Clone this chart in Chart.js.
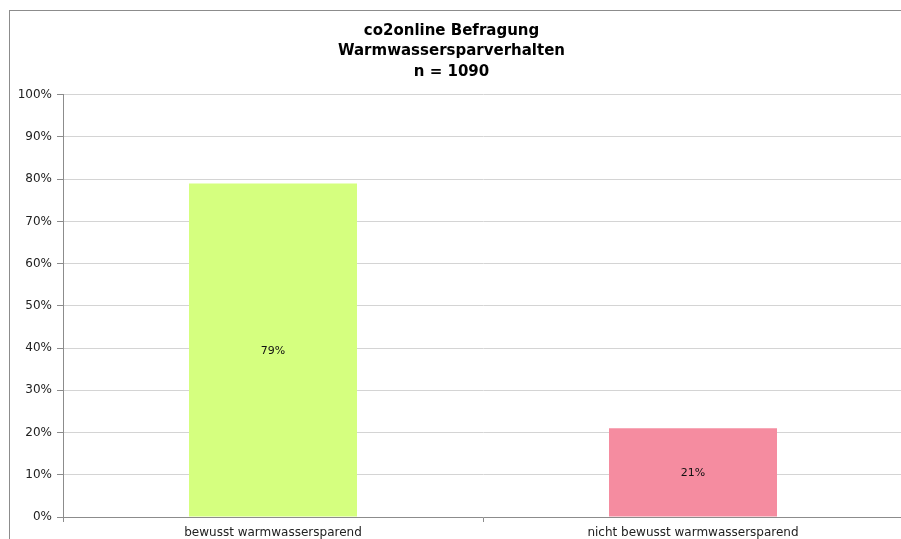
<!DOCTYPE html>
<html>
<head>
<meta charset="utf-8">
<script src="https://cdn.jsdelivr.net/npm/chart.js@4.4.0/dist/chart.umd.min.js"></script>
<style>
  html, body { margin: 0; padding: 0; background: #fff; overflow: hidden; }
  #frame { position: absolute; left: 9px; top: 10px; width: 1000px; height: 1000px; border-left: 1px solid #8c8c8c; border-top: 1px solid #8c8c8c; box-sizing: border-box; }
  #wrap { position: absolute; left: 0; top: 0; width: 940px; height: 560px; }
</style>
</head>
<body>
<div id="frame"></div>
<div id="wrap"><canvas id="barChart"></canvas></div>
<script>
var titleLines = ['co2online Befragung', 'Warmwassersparverhalten', 'n = 1090'];
var categories = ['bewusst warmwassersparend', 'nicht bewusst warmwassersparend'];
var shares = [79, 21];
var barColors = ['#d5ff7f', '#f58ca0'];
var yTicks = [0, 10, 20, 30, 40, 50, 60, 70, 80, 90, 100];

// draws "79%" etc. in the middle of each bar
var barLabels = {
    id: 'barLabels',
    afterDatasetsDraw: function (chart) {
        var ctx = chart.ctx;
        var meta = chart.getDatasetMeta(0);
        ctx.save();
        ctx.font = '11px "DejaVu Sans"';
        ctx.fillStyle = '#111';
        ctx.textAlign = 'center';
        ctx.textBaseline = 'middle';
        meta.data.forEach(function (bar, i) {
            var mid = (bar.y + bar.base) / 2;
            ctx.fillText(shares[i] + '%', bar.x, mid + 1);
        });
        ctx.restore();
    }
};

var ctx = document.getElementById('barChart').getContext('2d');
var myBarChart = new Chart(ctx, {
    type: 'bar',
    data: {
        labels: categories,
        datasets: [{
            data: shares,
            backgroundColor: barColors,
            borderWidth: 0,
            categoryPercentage: 1.0,
            barPercentage: 0.4
        }]
    },
    options: {
        responsive: true,
        maintainAspectRatio: false,
        animation: false,
        layout: { padding: { left: 0, right: 37, top: 0, bottom: 0 } },
        plugins: {
            legend: { display: false },
            tooltip: { enabled: false },
            title: {
                display: true,
                text: titleLines,
                color: '#000',
                font: { family: 'DejaVu Sans', size: 15, weight: 'bold', lineHeight: 1.35 },
                padding: { top: 21, bottom: 13 }
            }
        },
        scales: {
            x: {
                border: { color: '#8c8c8c' },
                grid: { offset: true, drawOnChartArea: false, tickLength: 5, color: '#8c8c8c' },
                ticks: { color: '#222', font: { family: 'DejaVu Sans', size: 12 }, padding: 4 },
                afterFit: function (scale) { scale.height = 43; }
            },
            y: {
                min: 0,
                max: 100,
                border: { color: '#8c8c8c' },
                grid: { color: '#d4d4d4', tickLength: 6, tickColor: '#8c8c8c' },
                afterBuildTicks: function (scale) {
                    scale.ticks = yTicks.map(function (v) { return { value: v }; });
                },
                ticks: {
                    color: '#222',
                    font: { family: 'DejaVu Sans', size: 12 },
                    padding: 5,
                    callback: function (v) { return v + '%'; }
                },
                afterFit: function (scale) { scale.width = 63; }
            }
        }
    },
    plugins: [barLabels]
});
</script>
</body>
</html>
